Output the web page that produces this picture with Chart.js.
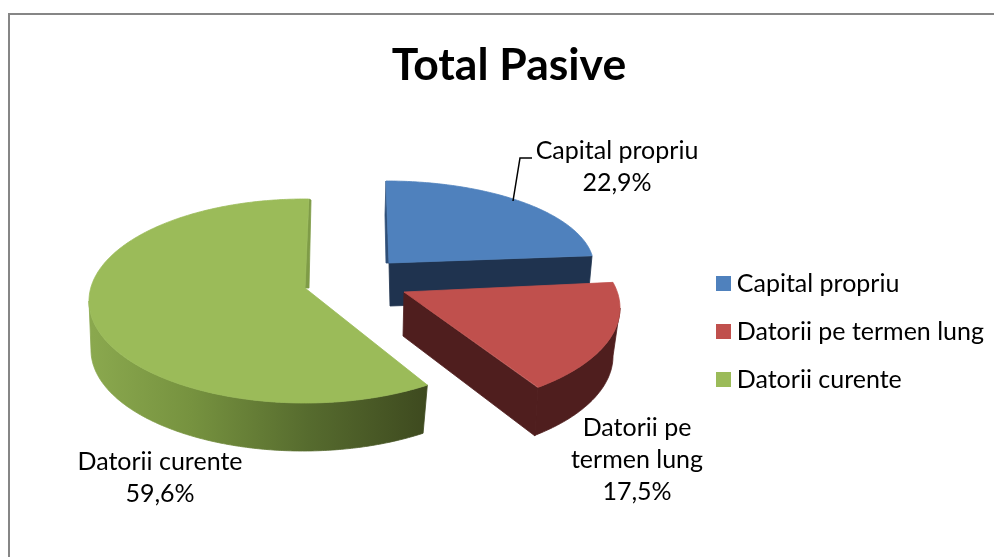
<!DOCTYPE html>
<html><head><meta charset="utf-8">
<style>html,body{margin:0;padding:0;background:#fff;overflow:hidden}canvas{display:block}</style>
<script src="https://cdn.jsdelivr.net/npm/chart.js@4"></script>
</head><body><canvas id="c" width="994" height="557"></canvas>
<script>
const categories = ['Capital propriu', 'Datorii pe termen lung', 'Datorii curente'];
const values = [22.9, 17.5, 59.6];
const colors = ['#4f81bd', '#c0504d', '#9bbb59'];
const labelLines = [['Capital propriu'], ['Datorii pe', 'termen lung'], ['Datorii curente']];
const FONT = 'Lato, Carlito, sans-serif';

// look of the tilted 3-D slices: how each library arc is projected on screen
const look = [
  {apex:[389,263], top:[386,267,208,86], low:null, t:[0,82.44], cut:'#1f334f',
   strip:[[386,181],[385,215],[386,263],[389,263]], stripColor:'#2f4f78',
   face:[[389,263],[592,256],[588,299],[390,306]], label:[617,151]},
  {apex:[404,292], top:[405,308,215,101], low:[408,356,205,101], t:[75.3,141.8], side:'#4f1e1e', sideFrom:90, cut:'#4f1e1e',
   face:[[404,292],[538,388],[535,436],[403,336]], label:[637,428]},
  {apex:[305,288], top:[305,301,216,102], low:[303,350,212,101], t:[145.5,361], sideFrom:145.5, sideTo:270, gradient:true,
   strip:[[309,199],[311,200],[309,288],[305,288]], stripColor:'#7f9c47', label:[160,462]}
];
const swatch = c => { const s = document.createElement('canvas'); s.width = s.height = 15;
  const x = s.getContext('2d'); x.fillStyle = c; x.fillRect(0,0,15,15); return s; };

const poly = (ctx, pts, fill) => { ctx.beginPath(); pts.forEach((p,i)=> i?ctx.lineTo(p[0],p[1]):ctx.moveTo(p[0],p[1])); ctx.closePath();
  ctx.fillStyle = fill; ctx.fill(); ctx.strokeStyle = fill; ctx.lineWidth = 0.8; ctx.lineJoin = 'round'; ctx.stroke(); };
const onEll = (e, deg) => { const r = deg*Math.PI/180; return [e[0]+e[2]*Math.sin(r), e[1]-e[3]*Math.cos(r)]; };
const arcPts = (e, a, b) => { const out=[], n=Math.max(2,Math.ceil(Math.abs(b-a)*1.5)); for(let i=0;i<=n;i++) out.push(onEll(e,a+(b-a)*i/n)); return out; };

const pie3d = {
  id:'pie3d',
  afterLayout(chart){ const lg=chart.legend, d=53; lg.top+=d; lg.bottom+=d; },
  beforeDraw(chart){ const ctx=chart.ctx; ctx.save(); ctx.fillStyle='#fff'; ctx.fillRect(0,0,994,557);
    ctx.strokeStyle='#868686'; ctx.lineWidth=2; ctx.strokeRect(9,14,1100,1000); ctx.restore(); },
  beforeDatasetsDraw(chart){
    const ctx=chart.ctx, arcs=chart.getDatasetMeta(0).data;
    ctx.save();
    [0,2,1].forEach(i=>{
      const el=arcs[i], L=look[i];
      const th0=(el.startAngle+Math.PI/2)*180/Math.PI, th1=(el.endAngle+Math.PI/2)*180/Math.PI;
      const map=th=>L.t[0]+(th-th0)/(th1-th0)*(L.t[1]-L.t[0]);
      if(L.low){
        const a=L.sideFrom, b=L.sideTo||L.t[1];
        const pts=arcPts(L.low,a,b).concat(arcPts(L.top,b,a));
        let fill=L.side;
        if(L.gradient){ const g=ctx.createLinearGradient(92,0,426,0);
          g.addColorStop(0,'#8aa84e'); g.addColorStop(.3,'#76923f'); g.addColorStop(.65,'#566b2e'); g.addColorStop(1,'#3e4a1f'); fill=g; }
        poly(ctx,pts,fill);
      }
      if(L.strip) poly(ctx,L.strip,L.stripColor);
      if(L.face) poly(ctx,L.face,L.cut);
      poly(ctx,[L.apex].concat(arcPts(L.top,map(th0),map(th1))),el.options.backgroundColor);
    });
    ctx.restore();
    return false;
  },
  afterDraw(chart){
    const ctx=chart.ctx; ctx.save();
    ctx.strokeStyle='#000'; ctx.lineWidth=1.5; ctx.beginPath(); ctx.moveTo(513,201); ctx.lineTo(520,158); ctx.lineTo(532,158); ctx.stroke();
    ctx.fillStyle='#000'; ctx.font='25px '+FONT; ctx.textAlign='center'; ctx.textBaseline='middle';
    values.forEach((v,i)=>{
      const lines=labelLines[i].concat([v.toFixed(1).replace('.',',')+'%']);
      lines.forEach((s,k)=>ctx.fillText(s,look[i].label[0],look[i].label[1]+k*32));
    });
    ctx.restore();
  }
};

new Chart(document.getElementById('c'),{
  type:'pie',
  data:{labels:categories,datasets:[{data:values,backgroundColor:colors,borderWidth:0}]},
  options:{
    responsive:false,animation:false,
    layout:{padding:{left:24,right:0,top:0,bottom:0}},
    plugins:{
      tooltip:{enabled:false},
      title:{display:true,text:'Total Pasive',color:'#000',font:{family:FONT,size:44.5,weight:'bold',lineHeight:1.2},padding:{top:39,bottom:15}},
      legend:{position:'right',labels:{
        font:{family:FONT,size:25,lineHeight:1.2},color:'#000',usePointStyle:true,pointStyleWidth:2,boxHeight:15,padding:23,
        generateLabels(chart){
          return Chart.overrides.pie.plugins.legend.labels.generateLabels(chart).map((it,i)=>Object.assign(it,{pointStyle:swatch(colors[i])}));
        }
      }}
    }
  },
  plugins:[pie3d]
});
</script></body></html>
